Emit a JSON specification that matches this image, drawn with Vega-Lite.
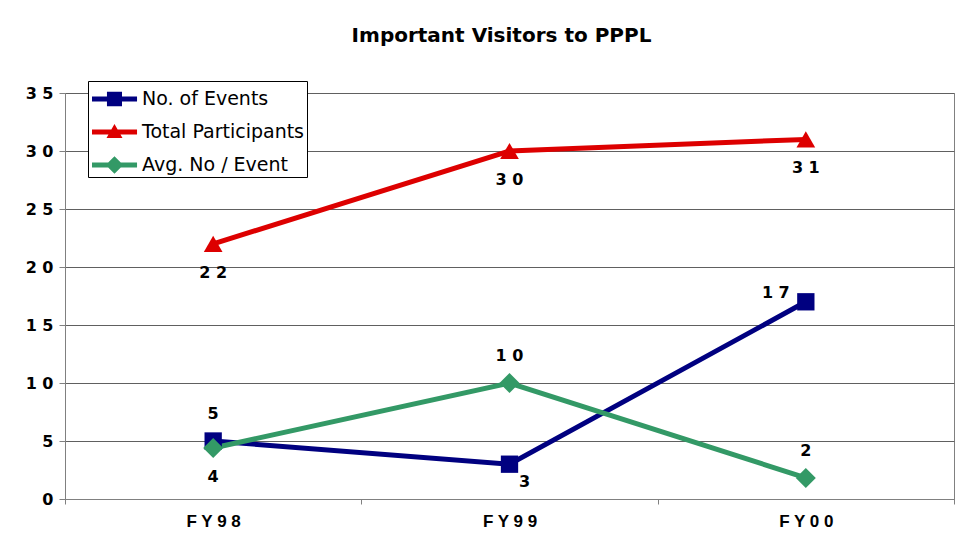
{
  "$schema": "https://vega.github.io/schema/vega-lite/v6.json",
  "autosize": {"type": "none"},
  "width": 889,
  "height": 406,
  "padding": {"left": 65, "top": 93, "right": 22, "bottom": 41},
  "background": "white",
  "title": {
    "text": "Important Visitors to PPPL",
    "font": "DejaVu Sans",
    "fontSize": 20,
    "fontWeight": "bold",
    "color": "black",
    "anchor": "middle",
    "frame": "group",
    "baseline": "alphabetic",
    "offset": 19,
    "dx": -8
  },
  "data": {
    "values": [
      {"fy": "FY98", "series": "No. of Events", "value": 5, "lbl": "5"},
      {"fy": "FY99", "series": "No. of Events", "value": 3, "lbl": "3"},
      {"fy": "FY00", "series": "No. of Events", "value": 17, "lbl": "1 7"},
      {"fy": "FY98", "series": "Total Participants", "value": 22, "lbl": "2 2"},
      {"fy": "FY99", "series": "Total Participants", "value": 30, "lbl": "3 0"},
      {"fy": "FY00", "series": "Total Participants", "value": 31, "lbl": "3 1"},
      {"fy": "FY98", "series": "Avg. No / Event", "value": 4.4, "lbl": "4"},
      {"fy": "FY99", "series": "Avg. No / Event", "value": 10, "lbl": "1 0"},
      {"fy": "FY00", "series": "Avg. No / Event", "value": 1.82, "lbl": "2"}
    ]
  },
  "encoding": {
    "x": {
      "field": "fy",
      "type": "nominal",
      "sort": ["FY98", "FY99", "FY00"],
      "scale": {"type": "band", "paddingInner": 0, "paddingOuter": 0},
      "axis": {
        "title": null,
        "labelAngle": 0,
        "labelFont": "Liberation Sans",
        "labelFontWeight": "bold",
        "labelFontSize": 17,
        "labelColor": "black",
        "labelExpr": "join(split(datum.label, ''), ' ')",
        "labelPadding": 9,
        "tickBand": "extent",
        "tickSize": 5,
        "tickColor": "#808080",
        "domainColor": "#808080",
        "grid": false
      }
    },
    "y": {
      "field": "value",
      "type": "quantitative",
      "scale": {"domain": [0, 35], "nice": false},
      "axis": {
        "title": null,
        "values": [0, 5, 10, 15, 20, 25, 30, 35],
        "labelFont": "DejaVu Sans",
        "labelFontWeight": "bold",
        "labelFontSize": 16,
        "labelColor": "black",
        "labelExpr": "join(split(datum.label, ''), ' ')",
        "labelPadding": 6,
        "tickSize": 6,
        "tickColor": "#808080",
        "domainColor": "#808080",
        "gridColor": "#606060",
        "gridOpacity": 1
      }
    }
  },
  "layer": [
    {
      "mark": {"type": "line", "strokeWidth": 5},
      "encoding": {
        "color": {
          "field": "series",
          "type": "nominal",
          "scale": {
            "domain": ["No. of Events", "Total Participants", "Avg. No / Event"],
            "range": ["#000080", "#dd0000", "#339966"]
          },
          "legend": null
        }
      }
    },
    {
      "mark": {"type": "point", "filled": true, "opacity": 1},
      "encoding": {
        "color": {
          "field": "series",
          "type": "nominal",
          "scale": {
            "domain": ["No. of Events", "Total Participants", "Avg. No / Event"],
            "range": ["#000080", "#dd0000", "#339966"]
          },
          "legend": null
        },
        "shape": {
          "field": "series",
          "type": "nominal",
          "scale": {
            "domain": ["No. of Events", "Total Participants", "Avg. No / Event"],
            "range": ["square", "triangle-up", "diamond"]
          },
          "legend": null
        },
        "size": {
          "field": "series",
          "type": "nominal",
          "scale": {
            "domain": ["No. of Events", "Total Participants", "Avg. No / Event"],
            "range": [300, 400, 340]
          },
          "legend": null
        }
      }
    },
    {
      "transform": [{"filter": "datum.value < 0"}],
      "mark": {"type": "point", "filled": true, "opacity": 1},
      "encoding": {
        "color": {
          "field": "series",
          "type": "nominal",
          "scale": {
            "domain": ["No. of Events", "Total Participants", "Avg. No / Event"],
            "range": ["#000080", "#dd0000", "#339966"]
          },
          "legend": {
            "title": null,
            "orient": "none",
            "legendX": 23,
            "legendY": -12,
            "symbolSize": 1024,
            "symbolStrokeWidth": 0,
            "symbolOpacity": 1,
            "labelFont": "DejaVu Sans",
            "labelFontSize": 19,
            "labelColor": "black",
            "labelOffset": 20,
            "labelLimit": 400,
            "rowPadding": 7,
            "padding": 2,
            "fillColor": "white",
            "strokeColor": "black"
          }
        },
        "shape": {
          "field": "series",
          "type": "nominal",
          "scale": {
            "domain": ["No. of Events", "Total Participants", "Avg. No / Event"],
            "range": [
              "M-0.875,-0.16H1.94V0.16H-0.875Z M0.06,-0.45H1.0V0.45H0.06Z",
              "M-0.875,-0.16H1.94V0.16H-0.875Z M0.53,-0.5L1.03,0.38H0.03Z",
              "M-0.875,-0.16H1.94V0.16H-0.875Z M0.53,-0.55L1.08,0L0.53,0.55L-0.02,0Z"
            ]
          },
          "legend": {
            "title": null,
            "orient": "none",
            "legendX": 23,
            "legendY": -12,
            "symbolSize": 1024,
            "symbolStrokeWidth": 0,
            "symbolOpacity": 1,
            "labelFont": "DejaVu Sans",
            "labelFontSize": 19,
            "labelColor": "black",
            "labelOffset": 20,
            "labelLimit": 400,
            "rowPadding": 7,
            "padding": 2,
            "fillColor": "white",
            "strokeColor": "black"
          }
        }
      }
    },
    {
      "transform": [{"filter": "(datum.series == 'No. of Events' && datum.fy == 'FY98') || (datum.series == 'Avg. No / Event' && datum.fy != 'FY98')"}],
      "mark": {"type": "text", "dy": -27, "font": "DejaVu Sans", "fontWeight": "bold", "fontSize": 16, "color": "black", "baseline": "middle"},
      "encoding": {"text": {"field": "lbl"}}
    },
    {
      "transform": [{"filter": "datum.series == 'Total Participants' || (datum.series == 'Avg. No / Event' && datum.fy == 'FY98')"}],
      "mark": {"type": "text", "dy": 29, "font": "DejaVu Sans", "fontWeight": "bold", "fontSize": 16, "color": "black", "baseline": "middle"},
      "encoding": {"text": {"field": "lbl"}}
    },
    {
      "transform": [{"filter": "datum.series == 'No. of Events' && datum.fy == 'FY99'"}],
      "mark": {"type": "text", "dx": 15, "dy": 18, "font": "DejaVu Sans", "fontWeight": "bold", "fontSize": 16, "color": "black", "baseline": "middle"},
      "encoding": {"text": {"field": "lbl"}}
    },
    {
      "transform": [{"filter": "datum.series == 'No. of Events' && datum.fy == 'FY00'"}],
      "mark": {"type": "text", "dx": -30, "dy": -9, "font": "DejaVu Sans", "fontWeight": "bold", "fontSize": 16, "color": "black", "baseline": "middle"},
      "encoding": {"text": {"field": "lbl"}}
    }
  ],
  "resolve": {"scale": {"shape": "independent", "size": "independent", "color": "independent"}},
  "config": {
    "view": {"stroke": "#808080", "strokeWidth": 1},
    "axis": {"gridWidth": 1}
  }
}
